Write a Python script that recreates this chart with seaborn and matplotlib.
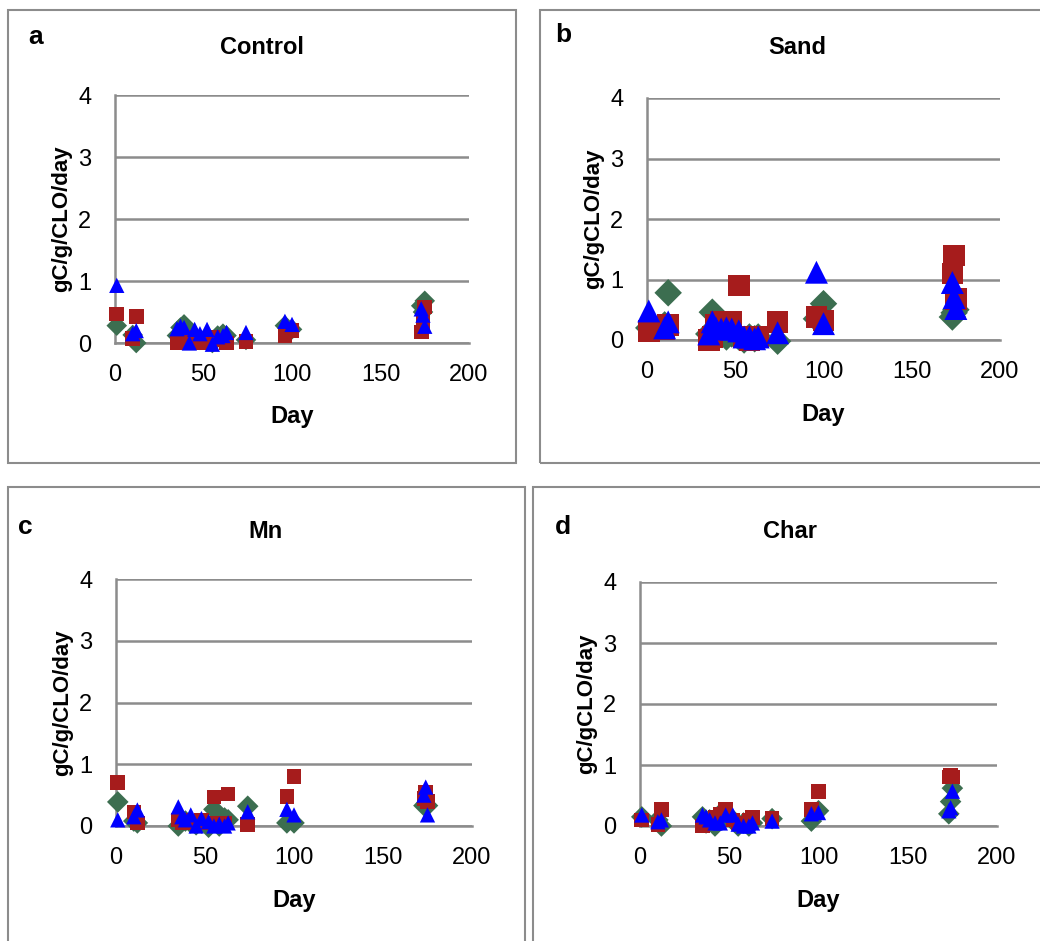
import pandas as pd
import seaborn as sns
import matplotlib.pyplot as plt
from matplotlib.patches import Rectangle

# sampling days (shared by every treatment)
days = [1, 10, 12, 35, 37, 39, 42, 45, 48, 52, 55, 58, 61, 63, 74, 96, 100, 173, 174, 175]

control_green = [0.28, 0.13, 0.00, 0.12, 0.25, 0.30, 0.18, 0.10, 0.05, 0.10, 0.00, 0.12, 0.15, 0.12, 0.05, 0.28, 0.22, 0.60, 0.50, 0.68]
control_red = [0.47, 0.07, 0.43, 0.00, 0.05, 0.10, 0.05, 0.05, 0.00, 0.00, 0.10, 0.05, 0.05, 0.00, 0.02, 0.12, 0.20, 0.18, 0.35, 0.58]
control_blue = [0.93, 0.15, 0.20, 0.23, 0.27, 0.25, 0.00, 0.22, 0.15, 0.22, -0.02, 0.10, 0.12, 0.17, 0.17, 0.35, 0.30, 0.55, 0.45, 0.27]

sand_green = [0.20, 0.25, 0.78, 0.10, 0.46, 0.15, 0.10, 0.05, 0.10, 0.05, 0.00, 0.05, 0.02, 0.05, -0.02, 0.35, 0.60, 0.38, 0.45, 0.50]
sand_red = [0.15, 0.18, 0.25, 0.00, 0.05, 0.25, 0.30, 0.28, 0.30, 0.90, 0.05, 0.00, 0.02, 0.05, 0.30, 0.38, 0.32, 1.10, 1.40, 0.68]
sand_blue = [0.48, 0.20, 0.30, 0.10, 0.30, 0.20, 0.18, 0.20, 0.18, 0.15, 0.05, 0.05, 0.02, 0.05, 0.12, 1.12, 0.27, 0.95, 0.70, 0.52]

mn_green = [0.39, 0.08, 0.05, 0.00, 0.10, 0.08, 0.05, 0.02, 0.05, -0.02, 0.27, 0.00, 0.13, 0.10, 0.32, 0.05, 0.05, 0.33, 0.35, 0.33]
mn_red = [0.70, 0.23, 0.05, 0.10, 0.05, 0.10, 0.05, 0.05, 0.10, 0.05, 0.47, 0.05, 0.05, 0.52, 0.02, 0.48, 0.80, 0.45, 0.55, 0.40]
mn_blue = [0.10, 0.15, 0.26, 0.31, 0.15, 0.10, 0.18, 0.00, 0.12, 0.07, 0.00, 0.03, 0.00, 0.05, 0.23, 0.27, 0.18, 0.50, 0.63, 0.18]

char_green = [0.15, 0.10, 0.00, 0.15, 0.05, 0.10, 0.00, 0.20, 0.15, 0.10, 0.00, 0.05, 0.00, 0.05, 0.12, 0.08, 0.25, 0.20, 0.40, 0.62]
char_red = [0.10, 0.02, 0.27, 0.00, 0.05, 0.10, 0.15, 0.20, 0.27, 0.10, 0.05, 0.05, 0.10, 0.14, 0.12, 0.27, 0.57, 0.80, 0.83, 0.80]
char_blue = [0.18, 0.07, 0.10, 0.18, 0.15, 0.10, 0.05, 0.05, 0.18, 0.18, 0.03, 0.00, 0.00, 0.05, 0.08, 0.20, 0.22, 0.25, 0.30, 0.57]

panel_letters = ["a", "b", "c", "d"]
panel_titles = ["Control", "Sand", "Mn", "Char"]
y_labels = ["gC/g/CLO/day", "gC/gCLO/day", "gC/g/CLO/day", "gC/gCLO/day"]
x_ticks = [0, 50, 100, 150, 200]
y_ticks = [0, 1, 2, 3, 4]

panel_data = [
    (control_green, control_red, control_blue),
    (sand_green, sand_red, sand_blue),
    (mn_green, mn_red, mn_blue),
    (char_green, char_red, char_blue),
]

# pixel layout: axes (left, top, right, bottom), box, letter, title, marker sizes (diamond, square, triangle)
layout = [
    dict(ax=(115, 95, 469, 343), box=(8, 10, 516, 463), letter=(36, 37), title=(262, 47), ms=(10.5, 10.5, 11.0)),
    dict(ax=(647, 98, 1000, 340), box=(540, 10, 1045, 463), letter=(563, 35), title=(797, 47), ms=(14.0, 15.5, 16.5)),
    dict(ax=(116, 579, 472, 826), box=(8, 487, 525, 945), letter=(25, 527), title=(265, 532), ms=(11.0, 10.5, 11.0)),
    dict(ax=(640, 582, 997, 826), box=(533, 487, 1045, 945), letter=(563, 527), title=(790, 532), ms=(11.0, 10.5, 11.0)),
]

GREEN = "#3c6e50"
RED = "#a61c1c"
BLUE = "#0000ff"
GRID = "#8c8c8c"

sns.set_theme(style="white")
plt.rcParams['font.family'] = ['Liberation Sans Narrow', 'Liberation Sans', 'DejaVu Sans']
plt.rcParams['text.color'] = 'black'

W, H = 1040, 941
fig = plt.figure(figsize=(W / 100, H / 100), dpi=100)

for i in range(4):
    lay = layout[i]
    l, t, r, b = lay["ax"]
    ax = fig.add_axes([l / W, 1 - b / H, (r - l) / W, (b - t) / H])

    # panel frame
    bl, bt, br, bb = lay["box"]
    fig.patches.append(Rectangle((bl / W, 1 - bb / H), (br - bl) / W, (bb - bt) / H,
                                 transform=fig.transFigure, fill=False,
                                 edgecolor=GRID, lw=1.5, zorder=0))

    green, red, blue = panel_data[i]
    df = pd.DataFrame({"day": days, "green": green, "red": red, "blue": blue})
    md, msq, mt = lay["ms"]
    sns.scatterplot(data=df, x="day", y="green", marker="D", color=GREEN, s=md ** 2,
                    edgecolor="none", linewidth=0, ax=ax, clip_on=False, zorder=3)
    sns.scatterplot(data=df, x="day", y="red", marker="s", color=RED, s=msq ** 2,
                    edgecolor="none", linewidth=0, ax=ax, clip_on=False, zorder=4)
    sns.scatterplot(data=df, x="day", y="blue", marker="^", color=BLUE, s=mt ** 2,
                    edgecolor="none", linewidth=0, ax=ax, clip_on=False, zorder=5)

    ax.set_xlim(0, 200)
    ax.set_ylim(0, 4)
    ax.set_xticks(x_ticks)
    ax.set_yticks(y_ticks)
    ax.yaxis.grid(True, color=GRID, lw=1.8)
    ax.xaxis.grid(False)
    ax.set_axisbelow(True)
    for side in ["top", "right"]:
        ax.spines[side].set_visible(False)
    for side in ["left", "bottom"]:
        ax.spines[side].set_color(GRID)
        ax.spines[side].set_linewidth(1.8)
    ax.tick_params(axis="both", which="major", direction="out", length=6, width=1.8,
                   color=GRID, labelsize=17, labelcolor="black")
    ax.tick_params(axis="x", pad=9)
    ax.tick_params(axis="y", pad=11)

    ax.set_xlabel("Day", fontsize=17, fontweight="bold", color="black")
    ax.set_ylabel(y_labels[i], fontsize=16, fontweight="bold", color="black")
    ax.xaxis.label.set_va("center")
    ax.yaxis.label.set_va("center")
    ax.xaxis.set_label_coords(0.5, -74 / (b - t))
    ax.yaxis.set_label_coords(-53 / (r - l), 0.5)

    lx, ly = lay["letter"]
    fig.text(lx / W, 1 - ly / H, panel_letters[i], fontsize=19, fontweight="bold",
             ha="center", va="center", color="black")
    tx, ty = lay["title"]
    fig.text(tx / W, 1 - ty / H, panel_titles[i], fontsize=17, fontweight="bold",
             ha="center", va="center", color="black")

fig.savefig("out.png", dpi=100)
